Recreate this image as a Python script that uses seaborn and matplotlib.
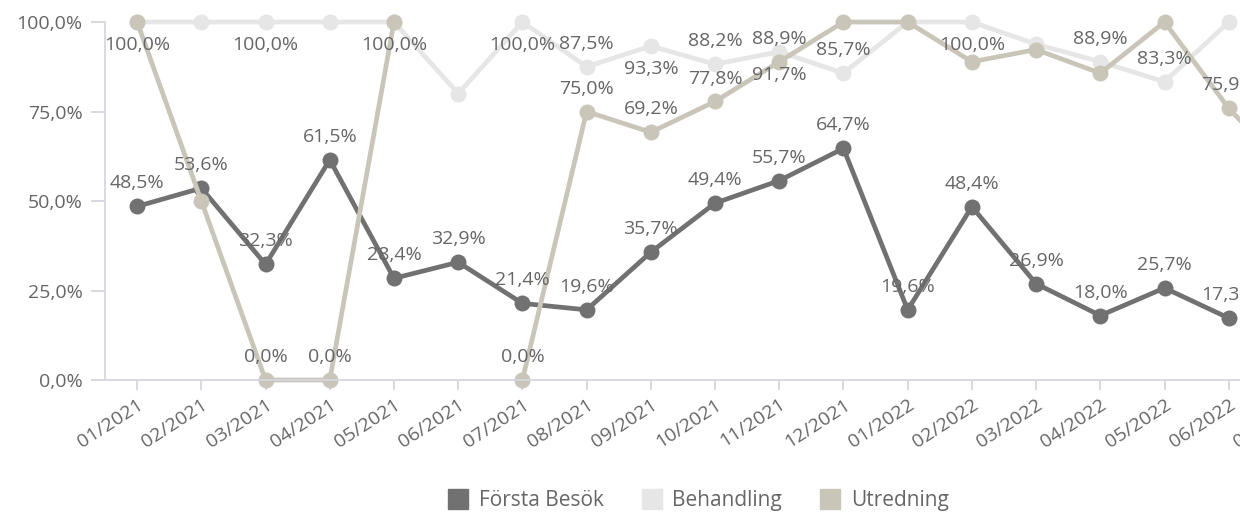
import numpy as np
import pandas as pd
import seaborn as sns
import matplotlib.pyplot as plt
from matplotlib.lines import Line2D

months = ["01/2021", "02/2021", "03/2021", "04/2021", "05/2021", "06/2021",
          "07/2021", "08/2021", "09/2021", "10/2021", "11/2021", "12/2021",
          "01/2022", "02/2022", "03/2022", "04/2022", "05/2022", "06/2022",
          "07/2022"]
nan = np.nan
forsta = [48.5, 53.6, 32.3, 61.5, 28.4, 32.9, 21.4, 19.6, 35.7, 49.4, 55.7, 64.7,
          19.6, 48.4, 26.9, 18.0, 25.7, 17.3, nan]
behandling = [100.0, 100.0, 100.0, 100.0, 100.0, 80.0, 100.0, 87.5, 93.3, 88.2, 91.7, 85.7,
              100.0, 100.0, 93.8, 88.9, 83.3, 100.0, nan]
utredning = [100.0, 50.0, 0.0, 0.0, 100.0, nan, 0.0, 75.0, 69.2, 77.8, 88.9, 100.0,
             100.0, 88.9, 92.3, 85.7, 100.0, 75.9, 57.0]

# which data labels are visible: 'a' above, 'b' below, '' hidden
lab_forsta = ['a'] * 18 + ['']
lab_behandling = ['', '', 'b', '', '', '', 'b', 'a', 'b', 'a', 'b', 'a',
                  '', 'b', '', 'a', 'a', '', '']
lab_utredning = ['b', '', 'a', 'a', 'b', '', 'a', 'a', 'a', 'a', 'a', '',
                 '', '', '', '', '', 'a', '']

names = ["Första Besök", "Behandling", "Utredning"]
colors = ["#717171", "#e6e6e6", "#c9c5b9"]
txt = "#666666"

# long form, split into segments where values are missing
rows = []
for name, vals in zip(names, [forsta, behandling, utredning]):
    seg = 0
    for i, v in enumerate(vals):
        if np.isnan(v):
            seg += 1
            continue
        rows.append({"i": i, "value": v, "serie": name, "seg": f"{name}-{seg}"})
df = pd.DataFrame(rows)

sns.set_theme(style="white")
plt.rcParams['font.family'] = ['Open Sans', 'DejaVu Sans']

fig = plt.figure(figsize=(12.4, 5.12), dpi=100)
ax = fig.add_axes([0.0847, 0.2578, 0.9839, 0.6992])

sns.lineplot(data=df, x="i", y="value", hue="serie", units="seg", estimator=None,
             palette=dict(zip(names, colors)), hue_order=names, marker="o",
             markersize=11.5, markeredgewidth=0, linewidth=3.4, legend=False, ax=ax)
for ln in ax.lines:
    ln.set_clip_on(False)

# data labels
for vals, labs in zip([forsta, behandling, utredning], [lab_forsta, lab_behandling, lab_utredning]):
    for i, (v, l) in enumerate(zip(vals, labs)):
        if not l:
            continue
        dy = 16.5 if l == 'a' else -16.5
        ax.annotate(f"{v:.1f}".replace('.', ',') + "%", (i, v), xytext=(0, dy),
                    textcoords="offset points", ha="center", va="center",
                    fontsize=14, color=txt, annotation_clip=False)

ax.set_xlim(-0.5, 18.5)
ax.set_ylim(0, 100)
ax.set_xticks(range(len(months)))
ax.set_xticklabels(months, rotation=33, ha="right", va="top", rotation_mode="anchor")
ax.set_yticks([0, 25, 50, 75, 100])
ax.set_yticklabels(["0,0%", "25,0%", "50,0%", "75,0%", "100,0%"])
ax.set(xlabel="", ylabel="")

spine_c = "#d6d6de"
sns.despine(ax=ax, top=True, right=True)
ax.spines["left"].set_color(spine_c)
ax.spines["bottom"].set_color(spine_c)
ax.spines["left"].set_linewidth(1.3)
ax.spines["bottom"].set_linewidth(1.3)
ax.tick_params(axis="y", length=10, width=1.3, color=spine_c, pad=6, labelsize=14, labelcolor=txt, left=True)
ax.tick_params(axis="x", length=7, width=1.3, color=spine_c, pad=4, labelsize=14, labelcolor=txt, bottom=True)
ax.grid(False)

# legend with square swatches
handles = [Line2D([], [], marker="s", linestyle="none", markersize=14, color=c) for c in colors]
fig.legend(handles, names, loc="center", bbox_to_anchor=(0.563, 0.022), ncol=3, frameon=False,
           handletextpad=0.5, columnspacing=1.8, handlelength=1.0, fontsize=15, labelcolor=txt)

plt.savefig("out.png", dpi=100)
